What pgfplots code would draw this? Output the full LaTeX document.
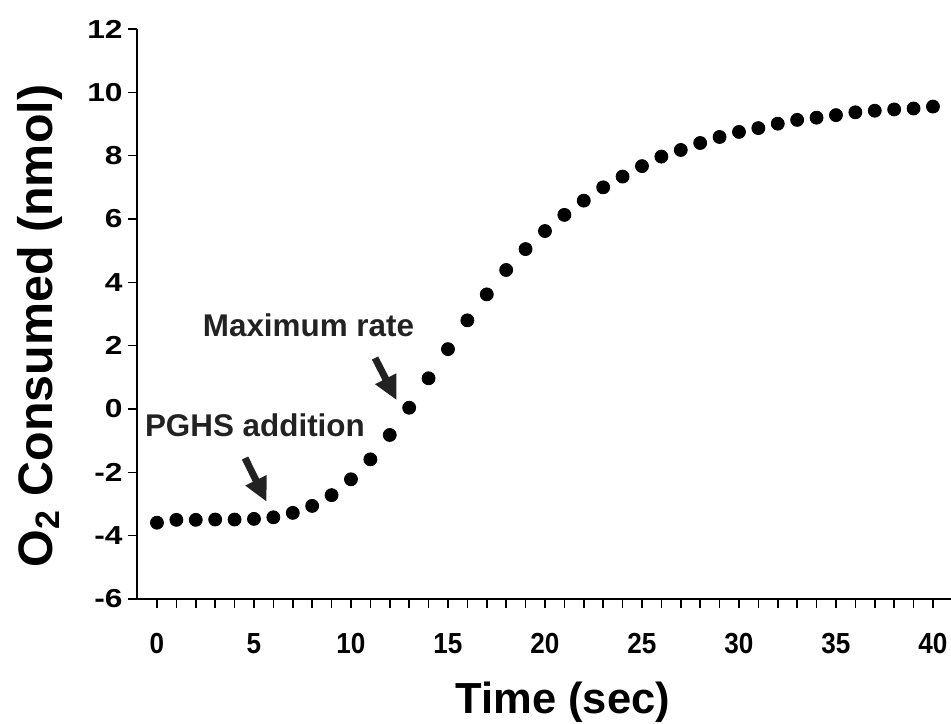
\documentclass[border=0pt]{standalone}
\usepackage{fontspec}
\setmainfont{Liberation Sans}
\usepackage{pgfplots}
\pgfplotsset{compat=1.18}
\usetikzlibrary{arrows.meta}
\definecolor{arr}{HTML}{222222}

\pgfplotstableread{
t o2
0 -3.59
1 -3.50
2 -3.50
3 -3.49
4 -3.49
5 -3.47
6 -3.42
7 -3.28
8 -3.06
9 -2.72
10 -2.22
11 -1.59
12 -0.82
13 0.04
14 0.97
15 1.89
16 2.80
17 3.62
18 4.39
19 5.05
20 5.62
21 6.13
22 6.58
23 7.00
24 7.34
25 7.67
26 7.97
27 8.18
28 8.40
29 8.59
30 8.75
31 8.87
32 9.01
33 9.13
34 9.20
35 9.28
36 9.37
37 9.42
38 9.46
39 9.49
40 9.55
}\oxygen

\begin{document}
\begin{tikzpicture}
\begin{axis}[
  name=ax,
  scale only axis, width=407pt, height=285pt,
  xmin=-1.03, xmax=40.93, ymin=-6, ymax=12,
  axis x line*=bottom, axis y line*=left,
  axis line style={line width=1pt},
  tick align=outside, tick style={black, line width=0.8pt},
  major tick length=4.5pt, minor tick length=4.5pt,
  xtick={0,5,...,40}, minor xtick={0,...,40},
  ytick={-6,-4,...,12},
  /pgf/number format/assume math mode=true,
  yticklabel={\scalebox{1.22}[1]{\pgfmathprintnumber{\tick}}},
  yticklabel style={font=\fontsize{13}{15}\selectfont\bfseries, inner sep=2.5pt},
  xticklabel={\scalebox{0.9}[1]{\pgfmathprintnumber{\tick}}},
  xticklabel style={font=\fontsize{14.5}{16}\selectfont\bfseries, anchor=base, yshift=-22.5pt},
  xlabel={Time (sec)},
  xlabel style={font=\fontsize{21.75}{24}\selectfont\bfseries, at={(axis description cs:0.523,0)}, anchor=base, yshift=-57pt},
  ylabel={O\textsubscript{2} Consumed (nmol)},
  ylabel style={font=\fontsize{24.2}{26}\selectfont\bfseries, at={(axis description cs:-0.1044,0.479)}, anchor=base},
  clip=false,
]
\addplot[only marks, mark=*, mark size=3.25pt, black] table[x=t, y=o2] {\oxygen};
\node[font=\fontsize{15.7}{18}\selectfont\bfseries, text=arr, anchor=base] at (axis cs:7.81,2.305) {Maximum rate};
\node[font=\fontsize{15.7}{18}\selectfont\bfseries, text=arr, anchor=base] at (axis cs:5.05,-0.884) {PGHS addition};
\draw[arr, line width=3.5pt, -{Triangle[width=11pt,length=12pt]}] (axis cs:11.24,1.61) -- (axis cs:12.35,0.28);
\draw[arr, line width=3.5pt, -{Triangle[width=11pt,length=12pt]}] (axis cs:4.54,-1.55) -- (axis cs:5.65,-2.93);
\end{axis}
\pgfresetboundingbox
\path[use as bounding box] ([shift={(-68.5pt,-62pt)}]ax.south west) rectangle ([shift={(407pt,299.5pt)}]ax.south west);
\end{tikzpicture}
\end{document}
